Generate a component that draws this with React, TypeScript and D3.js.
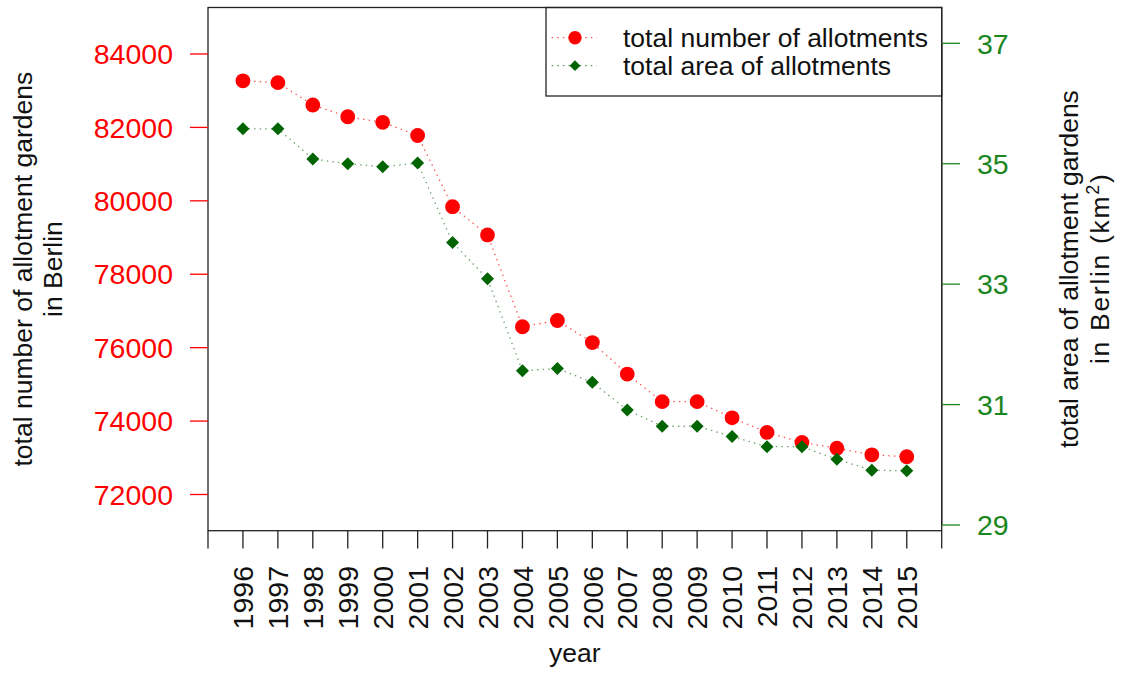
import React from "react";
import * as d3 from "d3";

const years = [1996,1997,1998,1999,2000,2001,2002,2003,2004,2005,2006,2007,2008,2009,2010,2011,2012,2013,2014,2015];
const allotmentCount = [83270,83220,82610,82290,82140,81780,79840,79070,76570,76740,76140,75280,74530,74530,74090,73690,73420,73260,73080,73030];
const allotmentArea = [35.58,35.58,35.08,35.0,34.95,35.01,33.69,33.09,31.56,31.6,31.37,30.91,30.64,30.64,30.47,30.3,30.3,30.09,29.91,29.9];
const leftTicks = [72000,74000,76000,78000,80000,82000,84000];
const rightTicks = [29,31,33,35,37];
const xTickYears = d3.range(1995, 2017);
const legendLabels = ["total number of allotments", "total area of allotments"];

const W = 1124, H = 673;
const L = 208, R = 941.7, T = 7.5, B = 530.7;
const FONT = "'Liberation Sans', Arial, Helvetica, sans-serif";
const FS = 28.5;
const RED = "#ff0000";
const DKGREEN = "#006400";
const AXGREEN = "#1c851c";

export default function App() {
  const x = d3.scaleLinear().domain([1995, 2016]).range([L, R]);
  const yL = d3.scaleLinear().domain([72000, 84000]).range([494.5, 54]);
  const yR = d3.scaleLinear().domain([29, 37]).range([525, 43.3]);

  const lineRed = d3.line<number>().x((_, i) => x(years[i])).y((d) => yL(d));
  const lineGreen = d3.line<number>().x((_, i) => x(years[i])).y((d) => yR(d));

  const diamond = (cx: number, cy: number, r: number) =>
    `M${cx},${cy - r}L${cx + r},${cy}L${cx},${cy + r}L${cx - r},${cy}Z`;

  const legRows = [37.7, 65.7];
  const midY = (T + B) / 2;

  return (
    <svg width={W} height={H} style={{ position: "absolute", left: 0, top: 0, background: "#fff" }} fontFamily={FONT}>
      <rect x={0} y={0} width={W} height={H} fill="#fff" />
      {/* series lines */}
      <path d={lineRed(allotmentCount) || ""} fill="none" stroke={RED} strokeWidth={1.3} strokeDasharray="1.4 4.2" opacity={0.7} />
      <path d={lineGreen(allotmentArea) || ""} fill="none" stroke={DKGREEN} strokeWidth={1.3} strokeDasharray="1.4 4.2" opacity={0.6} />
      {allotmentCount.map((v, i) => (
        <circle key={"c" + i} cx={x(years[i])} cy={yL(v)} r={7.4} fill={RED} />
      ))}
      {allotmentArea.map((v, i) => (
        <path key={"d" + i} d={diamond(x(years[i]), yR(v), 6.5)} fill={DKGREEN} />
      ))}

      {/* legend */}
      <rect x={546} y={T} width={R - 546} height={96 - T} fill="#fff" stroke="#222" strokeWidth={1.3} />
      {legRows.map((cy, i) => (
        <g key={"lg" + i}>
          <line x1={551.7} x2={596.7} y1={cy} y2={cy} stroke={i === 0 ? RED : DKGREEN} strokeWidth={1.3} strokeDasharray="1.4 4.2" opacity={0.7} />
          {i === 0 ? (
            <circle cx={575} cy={cy} r={6.7} fill={RED} />
          ) : (
            <path d={diamond(575, cy, 5.4)} fill={DKGREEN} />
          )}
          <text x={623} y={cy + 9} fontSize={26.5} fill="#111">{legendLabels[i]}</text>
        </g>
      ))}

      {/* plot box */}
      <rect x={L} y={T} width={R - L} height={B - T} fill="none" stroke="#222" strokeWidth={1.3} />

      {/* left axis */}
      {leftTicks.map((t) => (
        <g key={"l" + t}>
          <line x1={190} x2={L} y1={yL(t)} y2={yL(t)} stroke={RED} strokeWidth={1.3} />
          <text x={173} y={yL(t) + 0.358 * FS} fontSize={FS} fill={RED} textAnchor="end">{t}</text>
        </g>
      ))}

      {/* right axis */}
      <line x1={R} x2={R} y1={yR(37)} y2={yR(29)} stroke="#222" strokeWidth={1.3} />
      {rightTicks.map((t) => (
        <g key={"r" + t}>
          <line x1={R} x2={960} y1={yR(t)} y2={yR(t)} stroke={AXGREEN} strokeWidth={1.3} />
          <text x={977} y={yR(t) + 0.358 * FS} fontSize={FS} fill={AXGREEN} textAnchor="start">{t}</text>
        </g>
      ))}

      {/* x axis */}
      {xTickYears.map((yr) => (
        <line key={"xt" + yr} x1={x(yr)} x2={x(yr)} y1={B} y2={548.5} stroke="#222" strokeWidth={1.3} />
      ))}
      {years.map((yr) => {
        const tx = x(yr) + 0.358 * FS;
        const ty = 566;
        return (
          <text key={"xl" + yr} x={tx} y={ty} fontSize={FS} fill="#111" textAnchor="end" transform={`rotate(-90, ${tx}, ${ty})`}>
            {yr}
          </text>
        );
      })}

      {/* axis titles */}
      <text x={(L + R) / 2} y={662} fontSize={26.5} fill="#111" textAnchor="middle">year</text>
      {[
        { tx: 32.5, s: "total number of allotment gardens" },
        { tx: 62, s: "in Berlin" },
      ].map((o, i) => (
        <text key={"lt" + i} x={o.tx} y={midY} fontSize={26.5} fill="#111" textAnchor="middle" transform={`rotate(-90, ${o.tx}, ${midY})`}>
          {o.s}
        </text>
      ))}
      <text x={1078} y={midY} fontSize={26.5} fill="#111" textAnchor="middle" transform={`rotate(-90, 1078, ${midY})`}>
        total area of allotment gardens
      </text>
      <text x={1109} y={midY} fontSize={26.5} fill="#111" textAnchor="middle" textLength={190} lengthAdjust="spacing" transform={`rotate(-90, 1109, ${midY})`}>
        in Berlin (km<tspan dy={-10} fontSize={18}>2</tspan><tspan dy={10}>)</tspan>
      </text>
    </svg>
  );
}
